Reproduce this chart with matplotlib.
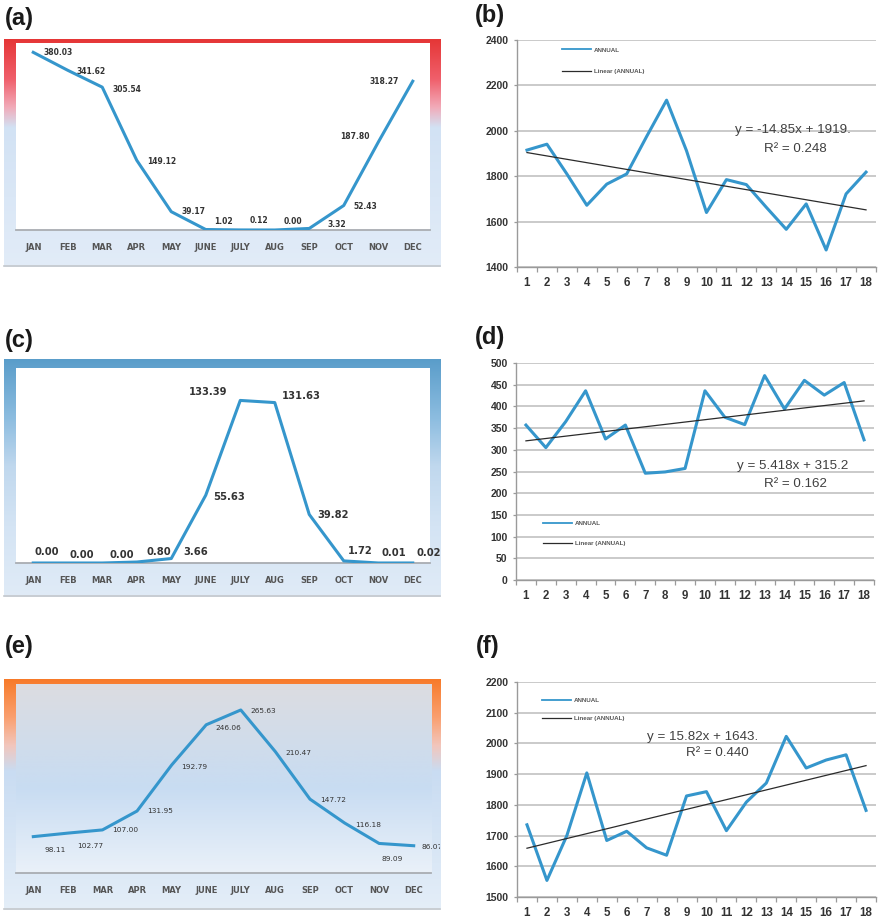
import numpy as np
import matplotlib
matplotlib.use("Agg")
import matplotlib.pyplot as plt
from matplotlib.colors import LinearSegmentedColormap

# ---------------- data ----------------
months = ["JAN", "FEB", "MAR", "APR", "MAY", "JUNE", "JULY", "AUG", "SEP", "OCT", "NOV", "DEC"]

monthly_a = [380.03, 341.62, 305.54, 149.12, 39.17, 1.02, 0.12, 0.00, 3.32, 52.43, 187.80, 318.27]
monthly_c = [0.00, 0.00, 0.00, 0.80, 3.66, 55.63, 133.39, 131.63, 39.82, 1.72, 0.01, 0.02]
monthly_e = [98.11, 102.77, 107.00, 131.95, 192.79, 246.06, 265.63, 210.47, 147.72, 116.18, 89.09, 86.07]

years = list(range(1, 19))
annual_b = [1915, 1941, 1810, 1672, 1765, 1810, 1975, 2135, 1912, 1640, 1785, 1763,
            1663, 1566, 1678, 1475, 1722, 1818]
annual_d = [357, 305, 365, 436, 325, 357, 246, 249, 257, 436, 375, 358,
            471, 394, 460, 426, 455, 323]
annual_f = [1735, 1554, 1700, 1904, 1684, 1714, 1660, 1636, 1829, 1843, 1716, 1809,
            1871, 2023, 1920, 1946, 1963, 1782]

trend_b = (-14.85, 1919.0, 0.248)
trend_d = (5.418, 315.2, 0.162)
trend_f = (15.82, 1643.0, 0.440)

# ---------------- styling ----------------
W, H = 880, 919
BLUE = "#3596cc"
fig = plt.figure(figsize=(W / 100, H / 100), dpi=100)
fig.patch.set_facecolor("white")
SANS = ["Liberation Sans", "DejaVu Sans"]


def rect(x0, y0, x1, y1):
    return [x0 / W, 1 - y1 / H, (x1 - x0) / W, (y1 - y0) / H]


def gradient_img(stops):
    cmap = LinearSegmentedColormap.from_list("g", stops)
    return cmap(np.linspace(0, 1, 256))[:, None, :3]


def monthly_panel(outer, inner, values, ylim, outer_stops, inner_stops,
                  offsets, has, lsize, lweight, lcolor, month_pad):
    bg = fig.add_axes(rect(*outer))
    bg.set_axis_off()
    bg.imshow(gradient_img(outer_stops), aspect="auto", extent=[0, 1, 0, 1], origin="upper")
    bg.set_xlim(0, 1)
    bg.set_ylim(0, 1)
    bg.plot([0, 1], [0.004, 0.004], color="#c4c8cc", lw=1.2, clip_on=False)

    ax = fig.add_axes(rect(*inner))
    if inner_stops is None:
        ax.set_facecolor("white")
    else:
        ax.imshow(gradient_img(inner_stops), aspect="auto", extent=[-0.5, 11.5, ylim[0], ylim[1]],
                  origin="upper", zorder=0)
    x = np.arange(12)
    ax.plot(x, values, color=BLUE, lw=2.2, zorder=3)
    ax.set_xlim(-0.5, 11.5)
    ax.set_ylim(*ylim)
    for s in ["top", "left", "right"]:
        ax.spines[s].set_visible(False)
    ax.spines["bottom"].set_color("#a9adb2")
    ax.spines["bottom"].set_linewidth(1.3)
    ax.set_yticks([])
    ax.set_xticks(x)
    ax.set_xticklabels(months, fontsize=6, fontweight="bold", color="#555555", family=["DejaVu Sans"])
    ax.tick_params(axis="x", length=0, pad=month_pad)
    for i, v in enumerate(values):
        dx, dy = offsets[i]
        t = ax.annotate(f"{v:.2f}", (i, v), xytext=(dx, -dy), textcoords="offset pixels",
                        ha=has[i], va="center", fontsize=lsize, fontweight=lweight,
                        color=lcolor, family=["DejaVu Sans"], annotation_clip=False, zorder=4)
        t.set_clip_on(True)
        t.set_clip_box(bg.bbox)
    return ax


def annual_panel(box, values, trend, ylim, ystep, eq_xy, r2_xy, leg_anchor, leg_spacing, dot):
    slope, intercept, r2 = trend
    ax = fig.add_axes(rect(*box))
    x = np.array(years)
    ax.plot(x, values, color=BLUE, lw=2.2, label="ANNUAL", zorder=3)
    ax.plot(x, slope * x + intercept, color="#2b2b2b", lw=0.9, label="Linear (ANNUAL)", zorder=4)
    ax.set_xlim(0.5, 18.5)
    ax.set_ylim(*ylim)
    ax.set_yticks(np.arange(ylim[0], ylim[1] + 1, ystep))
    ax.yaxis.grid(True, color="#bcbcbc", lw=1.1)
    ax.set_axisbelow(True)
    ax.set_xticks(x)
    ax.set_xticklabels([str(v) for v in years], fontsize=8.3, fontweight="bold",
                       color="#333333", family=SANS)
    ax.set_xticks(np.arange(0.5, 19, 1), minor=True)
    ax.tick_params(axis="x", which="major", length=0, pad=7.5)
    ax.tick_params(axis="x", which="minor", length=3.5, color="#9a9a9a", width=0.9)
    ax.tick_params(axis="y", length=2.5, color="#9a9a9a", width=0.9, pad=3.5)
    for lbl in ax.get_yticklabels():
        lbl.set_fontsize(7.5)
        lbl.set_fontweight("bold")
        lbl.set_color("#333333")
        lbl.set_family(SANS)
    for s in ["top", "right"]:
        ax.spines[s].set_visible(False)
    for s in ["left", "bottom"]:
        ax.spines[s].set_color("#9a9a9a")
        ax.spines[s].set_linewidth(1.0)
    leg = ax.legend(loc="upper left", bbox_to_anchor=leg_anchor, frameon=False,
                    handlelength=4.6, handletextpad=0.5, borderpad=0,
                    borderaxespad=0, labelspacing=leg_spacing,
                    prop={"family": SANS, "size": 4.5, "weight": "bold"})
    for t in leg.get_texts():
        t.set_color("#555555")
    handles = leg.legend_handles
    handles[0].set_linewidth(1.3)
    handles[1].set_linewidth(0.9)
    sign = "-" if slope < 0 else ""
    eq = f"y = {sign}{abs(slope):g}x + {intercept:g}" + ("." if dot else "")
    fig.text(eq_xy[0] / W, 1 - eq_xy[1] / H, eq, ha="center", va="center",
             fontsize=9.6, color="#404040", family=SANS)
    fig.text(r2_xy[0] / W, 1 - r2_xy[1] / H, f"R² = {r2:.3f}", ha="center", va="center",
             fontsize=9.6, color="#404040", family=SANS)
    return ax


# (a)
monthly_panel((4, 39, 440, 267), (16, 43, 430, 230), monthly_a, (0, 400),
              [(0.0, "#e53535"), (0.18, "#f0606c"), (0.30, "#f2aab8"), (0.39, "#d2e2f4"), (1.0, "#e2ecf8")],
              None,
              [(10, 0), (9, 1), (10, 2), (10, 1), (10, 0), (8, -8), (9, -9), (9, -8), (18, -4),
               (10, 1), (-9, -6), (-14, 0)],
              ["left"] * 10 + ["right", "right"], 5.5, "bold", "#333333", 9.5)

# (c)
monthly_panel((4, 359, 440, 597), (16, 368, 430, 563), monthly_c, (0, 160),
              [(0.0, "#5a9dca"), (0.25, "#8dbde0"), (0.45, "#c0d8ee"), (0.7, "#d4e4f4"), (1.0, "#e0ebf7")],
              None,
              [(1, -11), (2, -8), (7, -8), (10, -10), (12, -7), (7, 2), (-13, -8), (7, -7),
               (8, 1), (4, -10), (3, -10), (4, -10)],
              ["left"] * 6 + ["right"] + ["left"] * 5, 7.2, "bold", "#333333", 9.5)

# (e)
monthly_panel((4, 679, 440, 910), (16, 684, 431, 873), monthly_e, (50, 300),
              [(0.0, "#f77a28"), (0.17, "#faa070"), (0.29, "#f2c6bc"), (0.40, "#c9dcf2"), (1.0, "#e4eef8")],
              [(0.0, "#dcdde1"), (0.35, "#cfdcec"), (0.55, "#c8dcf2"), (1.0, "#eaf1f9")],
              [(11, 13), (9, 13), (10, 0), (10, 0), (10, 2), (9, 3), (10, 1), (10, 1), (10, 1),
               (11, 2), (2, 16), (8, 1)],
              ["left"] * 12, 5.3, "normal", "#333333", 9.5)

# (b)
annual_panel((517, 40, 876, 267), annual_b, trend_b, (1400, 2400), 200,
             (793, 130), (795, 149), (0.125, 0.968), 2.6, True)
# (d)
annual_panel((516, 363, 874, 580), annual_d, trend_d, (0, 500), 50,
             (793, 466), (795, 484), (0.075, 0.275), 2.4, False)
# (f)
annual_panel((517, 682, 876, 897), annual_f, trend_f, (1500, 2200), 100,
             (703, 737), (717, 753), (0.07, 0.928), 2.1, True)

# panel letters
for lab, (px, py) in {"(a)": (5, 7), "(b)": (475, 4), "(c)": (5, 329), "(d)": (475, 326),
                      "(e)": (5, 635), "(f)": (476, 635)}.items():
    fig.text(px / W, 1 - py / H, lab, ha="left", va="top", fontsize=17, fontweight="bold",
             color="#1a1a1a", family=SANS)

fig.savefig("out.png", dpi=100)
